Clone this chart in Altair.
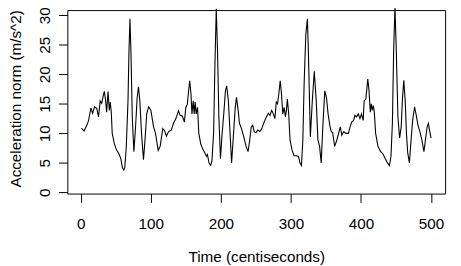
import altair as alt
import pandas as pd

time = [1, 4.6, 8.8, 11.2, 14.5, 16.9, 19.7, 22.9, 25.3, 27.7,
        29.9, 32.3, 33.7, 35.5, 36.9, 38.9, 40.7, 42.1, 43.5, 44.9,
        47.8, 51.0, 54.4, 57.2, 59.4, 61.4, 62.8, 65.0, 67.4, 68.8,
        70.2, 71.6, 73.5, 75.8, 78.2, 80.5, 82.4, 84.3, 86.7, 89.5,
        91.7, 94.1, 96.9, 100.1, 103.9, 106.7, 110.5, 113.3, 117.0, 119.8,
        122.2, 125.4, 129.2, 132.4, 135.8, 139.5, 141.9, 145.1, 147.9, 149.9,
        152.1, 153.5, 155.5, 157.3, 158.7, 160.5, 161.9, 163.3, 164.7, 166.7,
        168.5, 171.3, 174.6, 177.0, 179.4, 180.8, 183.0, 185.4, 187.2, 189.6,
        191.4, 193.4, 195.2, 197.1, 199.4, 201.8, 204.1, 206.5, 208.3, 210.7,
        213.1, 215.3, 218.7, 220.5, 222.3, 224.7, 226.5, 229.4, 232.7, 236.0,
        238.8, 241.2, 243.4, 245.4, 247.6, 250.0, 252.8, 255.6, 258.4, 261.7,
        265.0, 267.8, 270.1, 272.5, 274.9, 277.1, 279.1, 280.9, 282.7, 284.7,
        286.5, 288.3, 290.3, 292.1, 293.5, 294.9, 296.8, 298.7, 301.5, 304.4,
        307.6, 310.8, 312.8, 315.0, 317.0, 318.8, 321.2, 323.5, 324.9, 327.7,
        330.5, 333.3, 336.1, 338.5, 340.9, 343.2, 345.5, 348.3, 350.7, 353.0,
        355.8, 357.7, 359.6, 362.4, 365.6, 368.0, 370.4, 372.6, 375.4, 378.2,
        382.0, 384.4, 386.7, 389.5, 391.4, 393.7, 396.1, 398.5, 400.7, 403.1,
        404.5, 406.9, 408.3, 409.7, 411.5, 413.3, 414.7, 416.2, 417.6, 419.0,
        420.9, 424.2, 428.0, 431.2, 434.4, 437.8, 440.6, 442.8, 444.8, 446.6,
        448.5, 450.4, 452.7, 455.1, 457.4, 459.3, 461.1, 463.1, 464.9, 466.7,
        469.1, 471.5, 473.7, 476.5, 478.9, 481.3, 484.1, 486.9, 489.8, 492.0,
        494.4, 496.2, 498.2, 500]

accel = [10.9, 10.4, 11.4, 12.2, 14.3, 13.4, 14.5, 14.2, 12.8, 15.5,
         15.1, 16.5, 17.1, 15.5, 13.6, 17.1, 13.9, 15.3, 13.6, 10.0,
         8.3, 7.2, 6.55, 5.7, 4.2, 3.8, 4.2, 7.8, 15.5, 23.9,
         29.4, 23.9, 12.8, 6.9, 11.1, 16.1, 17.9, 15.5, 10.0, 5.55,
         8.9, 13.3, 14.5, 13.9, 11.1, 10.0, 7.1, 7.8, 10.8, 10.4,
         9.55, 10.3, 10.55, 11.7, 12.5, 13.8, 13.05, 12.9, 11.9, 14.4,
         14.9, 16.7, 18.9, 16.7, 13.3, 15.5, 13.3, 15.3, 13.3, 14.4,
         10.0, 8.2, 7.2, 6.7, 6.1, 6.4, 5.0, 4.6, 5.3, 10.0,
         21.1, 31.1, 23.9, 12.8, 5.7, 10.0, 13.3, 17.2, 18.05, 15.5,
         10.0, 5.0, 11.1, 14.4, 16.1, 13.9, 11.7, 10.8, 9.4, 7.8,
         6.9, 8.9, 11.1, 11.4, 10.3, 10.1, 10.55, 10.3, 10.8, 11.9,
         12.8, 13.4, 13.05, 13.9, 13.3, 12.5, 15.3, 15.0, 16.7, 18.9,
         16.7, 13.3, 14.4, 12.8, 13.9, 15.8, 13.3, 8.9, 7.2, 6.2,
         6.2, 6.1, 5.0, 4.55, 8.9, 18.3, 26.7, 29.4, 23.9, 9.4,
         15.5, 20.5, 15.5, 8.9, 7.8, 5.0, 11.1, 17.2, 16.1, 13.3,
         11.1, 10.3, 10.1, 7.8, 8.9, 10.0, 11.1, 9.7, 10.3, 10.0,
         10.0, 11.1, 11.9, 12.2, 13.05, 12.8, 13.3, 12.5, 13.3, 12.2,
         15.5, 15.8, 17.5, 19.2, 17.2, 13.6, 15.0, 13.9, 14.7, 13.6,
         10.0, 7.8, 6.9, 6.55, 5.8, 5.0, 4.55, 6.1, 11.7, 23.9,
         31.4, 23.9, 12.8, 9.2, 11.1, 16.1, 19.0, 15.5, 10.0, 6.7,
         5.0, 8.9, 12.2, 14.5, 13.05, 11.4, 10.3, 8.9, 6.9, 8.9,
         11.1, 11.7, 10.3, 9.2]

x_ticks = [0, 100, 200, 300, 400, 500]
y_ticks = [0, 5, 10, 15, 20, 25, 30]

df = pd.DataFrame({"t": time, "a": accel})

FONT = "Liberation Sans"
FS = 15.5

chart = alt.Chart(df).mark_line(color="black", strokeWidth=1.1, clip=False).encode(
    x=alt.X(
        "t:Q",
        scale=alt.Scale(domain=[-19.2, 520.1], nice=False, zero=False),
        axis=alt.Axis(
            values=x_ticks, title="Time (centiseconds)", grid=False, domain=False,
            ticks=True, tickSize=9, tickColor="black", tickWidth=1,
            labelPadding=26.5, labelBaseline="alphabetic", labelAlign="center",
            labelFont=FONT, labelFontSize=FS, labelColor="black", labelFlush=False,
            labelOverlap=False,
            titleFont=FONT, titleFontSize=FS, titleFontWeight="normal", titleColor="black",
            titleX=192, titleY=68.8, titleBaseline="alphabetic", titleAlign="center",
        ),
    ),
    y=alt.Y(
        "a:Q",
        scale=alt.Scale(domain=[-0.2, 30.88], nice=False, zero=False),
        axis=alt.Axis(
            values=y_ticks, title="Acceleration norm (m/s^2)", grid=False, domain=False,
            ticks=True, tickSize=9, tickColor="black", tickWidth=1,
            labelAngle=270, labelAlign="center", labelBaseline="alphabetic",
            labelPadding=9.3, labelFont=FONT, labelFontSize=FS, labelColor="black",
            labelFlush=False, labelOverlap=False,
            titleFont=FONT, titleFontSize=FS, titleFontWeight="normal", titleColor="black",
            titleAngle=270, titleX=-47.8, titleY=89.75, titleBaseline="alphabetic",
            titleAlign="center",
        ),
    ),
).properties(
    width=384,
    height=186.5,
    autosize="none",
    padding={"left": 60.3, "top": 0, "right": 8, "bottom": 71.5},
).configure_view(
    stroke="black", strokeWidth=1
)

chart.save("out.html", embed_options={"renderer": "svg", "actions": False})
